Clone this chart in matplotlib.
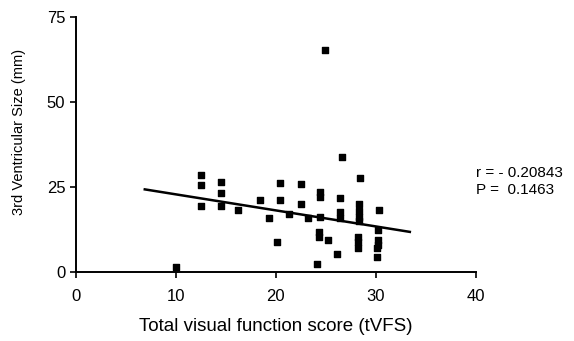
import matplotlib.pyplot as plt

# tVFS score vs 3rd ventricular size
tvfs = [10, 12.5, 12.5, 12.5, 14.5, 14.5, 14.5, 16.2, 18.4, 19.3, 20.1, 20.4,
        20.4, 21.3, 22.5, 22.5, 23.2, 24.4, 24.4, 24.4, 24.3, 24.3, 24.1, 24.9,
        25.2, 26.1, 26.4, 26.4, 26.4, 26.6, 28.4, 28.3, 28.3, 28.3, 28.3, 28.2,
        28.2, 28.2, 30.3, 30.2, 30.2, 30.2, 30.1, 30.1]
vent_size = [1.5, 28.5, 25.7, 19.5, 26.5, 23.3, 19.5, 18.2, 21.2, 15.9, 8.8, 26.2,
             21.2, 17.0, 25.9, 20.0, 15.9, 23.6, 22.0, 16.3, 11.9, 10.4, 2.4, 65.3,
             9.4, 5.3, 21.8, 17.7, 16.0, 33.8, 27.6, 20.0, 18.0, 16.2, 15.0, 10.3,
             8.8, 7.0, 18.2, 12.3, 9.4, 8.0, 7.2, 4.5]

# fitted line endpoints
fit_x = [6.9, 33.4]
fit_y = [24.3, 11.8]

r_text = "r = - 0.20843"
p_text = "P =  0.1463"

plt.rcParams['font.family'] = ['Liberation Sans', 'DejaVu Sans']

fig = plt.figure(figsize=(5.74, 3.41), dpi=100)
ax = fig.add_axes([0.132, 0.2023, 0.697, 0.748])

ax.scatter(tvfs, vent_size, marker='s', s=16, color='black', clip_on=False, zorder=3)
ax.plot(fit_x, fit_y, color='black', linewidth=1.8, clip_on=False)

ax.set_xlim(0, 40)
ax.set_ylim(0, 75)
ax.set_xticks([0, 10, 20, 30, 40])
ax.set_yticks([0, 25, 50, 75])
ax.spines['top'].set_visible(False)
ax.spines['right'].set_visible(False)
ax.spines['left'].set_linewidth(1.4)
ax.spines['bottom'].set_linewidth(1.4)
ax.tick_params(width=1.2, length=4, labelsize=12)
ax.tick_params(axis='x', pad=8)

ax.set_xlabel("Total visual function score (tVFS)", fontsize=13.5, labelpad=10)
ax.set_ylabel("3rd Ventricular Size (mm)", fontsize=10.5)
ax.yaxis.set_label_coords(-0.125, 0.55)

fig.text(0.83, 0.493, r_text, fontsize=11, va='center')
fig.text(0.83, 0.443, p_text, fontsize=11, va='center')

fig.savefig("out.png", dpi=100)
